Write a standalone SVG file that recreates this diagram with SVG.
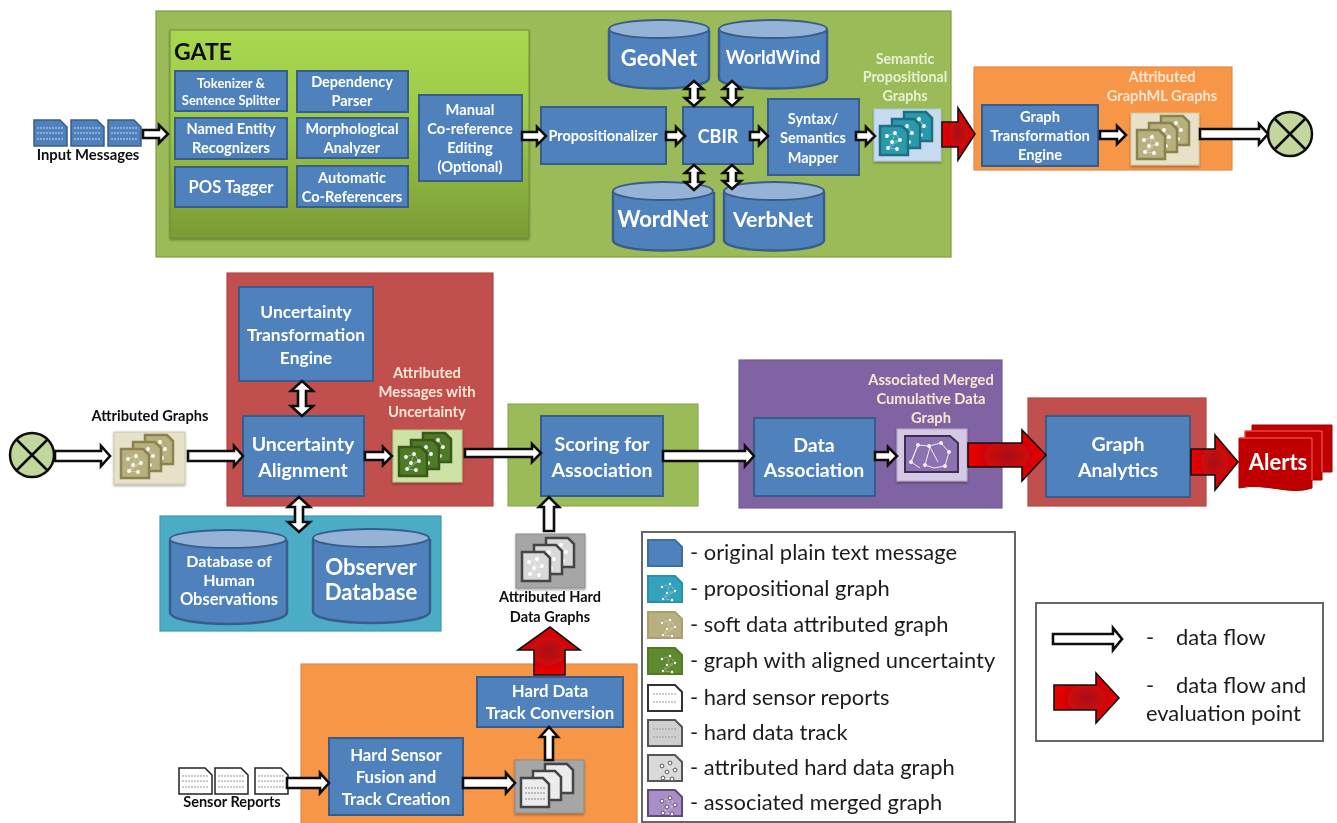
<svg xmlns="http://www.w3.org/2000/svg" width="1337" height="823" viewBox="0 0 1337 823">
<style>
text{font-family:"Lato","Open Sans","Liberation Sans",sans-serif;font-weight:700;text-anchor:middle}
.w{fill:#fff}.pale{fill:#e6efd4}.pe{fill:#fbe6d2}.k{fill:#111}
.box{fill:#4f81bd;stroke:#385d8a;stroke-width:2}
.panel{stroke-width:1.2}
.cyl{fill:#4f81bd;stroke:#385d8a;stroke-width:2.5}
.top{fill:#95b3d7;stroke:#385d8a;stroke-width:2}
.wa{fill:#fff;stroke:#111;stroke-width:2.6;stroke-linejoin:miter}
.ra{fill:url(#red);stroke:#111;stroke-width:1.6}
.leg{font-family:"Lato","Open Sans",sans-serif;font-weight:400;fill:#1c1c1c;font-size:21.9px;text-anchor:start}
.lb{fill:#fff;stroke:#666;stroke-width:2}
</style>
<defs>
<filter id="soft" x="-2%" y="-2%" width="104%" height="104%"><feGaussianBlur stdDeviation="0.55"/></filter>
<filter id="sh" x="-5%" y="-5%" width="110%" height="115%"><feDropShadow dx="0" dy="1.5" stdDeviation="1.2" flood-color="#000" flood-opacity=".35"/></filter>
<linearGradient id="gate" x1="0" y1="0" x2="0" y2="1"><stop offset="0" stop-color="#a9d84f"/><stop offset=".45" stop-color="#9cc848"/><stop offset="1" stop-color="#7a9a35"/></linearGradient>
<radialGradient id="red" r=".45"><stop offset="0" stop-color="#a81218"/><stop offset="1" stop-color="#e60000"/></radialGradient>
<g id="card"><path d="M0 0H22L28 6V29H0Z" fill="currentColor" stroke="var(--s)" stroke-width="2.5"/></g>
<g id="dots" fill="#fff"><path d="M7 10L15 7L12 16L20 14L8 22L17 23M15 7L20 14M12 16L8 22" fill="none" stroke="#fff" stroke-opacity=".45" stroke-width=".8"/><circle cx="7" cy="10" r="1.9"/><circle cx="15" cy="7" r="1.9"/><circle cx="12" cy="16" r="1.9"/><circle cx="20" cy="14" r="1.9"/><circle cx="8" cy="22" r="1.9"/><circle cx="17" cy="23" r="1.9"/></g>
<g id="stack">
<use href="#card" x="30" y="6"/><use href="#dots" x="30" y="6"/>
<use href="#card" x="18" y="13"/><use href="#dots" x="18" y="13"/>
<use href="#card" x="6" y="20"/><use href="#dots" x="6" y="20"/>
</g>
<g id="tstack">
<use href="#card" x="30" y="6"/><use href="#card" x="18" y="13"/><use href="#card" x="6" y="20"/>
<path d="M10 30H30M10 35H30M10 41H30" fill="none" stroke="#888" stroke-dasharray="2 1"/>
</g>
<g id="doc"><path d="M0 0H26L33 7V26H0Z" stroke-width="1.5"/><path d="M3 8H29M3 13H29M3 19H29" stroke="var(--l,#fff)" stroke-opacity=".7" stroke-width="1" stroke-dasharray="2 1"/></g>
<g id="ldoc"><path d="M0 1H27L34 8V27H0Z" stroke-width="2"/></g>
<path id="llines" d="M5 10H29M5 18H29" fill="none" stroke="#999" stroke-width="1" stroke-dasharray="2 1"/>
</defs>
<rect width="1337" height="823" fill="#fff"/>
<g filter="url(#soft)">

<g id="panels">
<rect id="panel-top" class="panel" x="156" y="11" width="795" height="246" fill="#9bbb59" stroke="#7f9c45"/>
<rect id="panel-orange1" class="panel" x="974" y="67" width="258" height="103" fill="#f79646" stroke="#e08a48"/>
<rect id="panel-red1" class="panel" x="227" y="273" width="266" height="233" fill="#c0504d" stroke="#b04a47"/>
<rect id="panel-green2" class="panel" x="508" y="404" width="190" height="102" fill="#9bbb59" stroke="#8dab52"/>
<rect id="panel-purple" class="panel" x="739" y="360" width="263" height="148" fill="#8064a2" stroke="#735a92"/>
<rect id="panel-red2" class="panel" x="1028" y="398" width="178" height="108" fill="#c0504d" stroke="#b04a47"/>
<rect id="panel-teal" class="panel" x="160" y="516" width="281" height="115" fill="#4bacc6" stroke="#4197ae"/>
<rect id="panel-orange2" class="panel" x="301" y="664" width="336" height="170" fill="#f79646" stroke="#e08a48"/>
</g>

<g id="gate"><rect x="170" y="30" width="359" height="208" fill="url(#gate)" stroke="#6f8c30" filter="url(#sh)"/>
<text x="203" y="60" class="k" style="font-size:23px">GATE</text></g>

<g id="n-tokenizer"><rect class="box" x="175" y="71" width="112" height="40"/><text class="w" x="231" y="88" font-size="13">Tokenizer &amp;</text><text class="w" x="231" y="105" font-size="13">Sentence Splitter</text></g>
<g id="n-dependency"><rect class="box" x="297" y="71" width="111" height="41"/><text class="w" x="352" y="87" font-size="14.5">Dependency</text><text class="w" x="352" y="106" font-size="14.5">Parser</text></g>
<g id="n-named"><rect class="box" x="175" y="118" width="112" height="41"/><text class="w" x="231" y="134" font-size="14.6">Named Entity</text><text class="w" x="231" y="153" font-size="14.6">Recognizers</text></g>
<g id="n-morph"><rect class="box" x="297" y="118" width="111" height="40"/><text class="w" x="352" y="134" font-size="14.5">Morphological</text><text class="w" x="352" y="153" font-size="14.5">Analyzer</text></g>
<g id="n-pos"><rect class="box" x="175" y="167" width="112" height="40"/><text class="w" x="231" y="193" font-size="16.5">POS Tagger</text></g>
<g id="n-auto"><rect class="box" x="297" y="166" width="111" height="41"/><text class="w" x="352" y="183" font-size="14.6">Automatic</text><text class="w" x="352" y="202" font-size="14.6">Co-Referencers</text></g>
<g id="n-manual"><rect class="box" x="419" y="95" width="103" height="86"/><text class="w" x="470" y="115" font-size="14.7">Manual</text><text class="w" x="470" y="134" font-size="14.7">Co-reference</text><text class="w" x="470" y="153" font-size="14.7">Editing</text><text class="w" x="470" y="172" font-size="14.7">(Optional)</text></g>
<g id="n-prop"><rect class="box" x="541" y="107" width="125" height="57"/><text class="w" x="603" y="141" font-size="14.5">Propositionalizer</text></g>
<g id="n-cbir"><rect class="box" x="683" y="107" width="70" height="57"/><text class="w" x="718" y="143" font-size="18">CBIR</text></g>
<g id="n-syntax"><rect class="box" x="768" y="99" width="91" height="76"/><text class="w" x="813" y="124" font-size="14.5">Syntax/</text><text class="w" x="813" y="143" font-size="14.5">Semantics</text><text class="w" x="813" y="163" font-size="14.5">Mapper</text></g>

<g id="db-geonet"><path class="cyl" d="M609 30V78C609 92 709 92 709 78V30"/><ellipse class="top" cx="659" cy="29" rx="50" ry="9"/><text class="w" x="659" y="66" font-size="22">GeoNet</text></g>
<g id="db-worldwind"><path class="cyl" d="M719 30V78C719 92 827 92 827 78V30"/><ellipse class="top" cx="773" cy="29" rx="54" ry="9"/><text class="w" x="773" y="64" font-size="18.3">WorldWind</text></g>
<g id="db-wordnet"><path class="cyl" d="M613 192V240C613 254 714 254 714 240V192"/><ellipse class="top" cx="663" cy="191" rx="50" ry="9"/><text class="w" x="663" y="227" font-size="22">WordNet</text></g>
<g id="db-verbnet"><path class="cyl" d="M724 192V240C724 254 824 254 824 240V192"/><ellipse class="top" cx="774" cy="191" rx="50" ry="9"/><text class="w" x="773" y="227" font-size="21.5">VerbNet</text></g>

<g id="n-semantic"><text class="pale" x="905" y="64" font-size="14.3">Semantic</text><text class="pale" x="905" y="82" font-size="14.3">Propositional</text><text class="pale" x="905" y="101" font-size="14.3">Graphs</text>
<rect x="874" y="109" width="67" height="52" fill="#c6daf0" stroke="#b0c4de" filter="url(#sh)"/><use href="#stack" x="874" y="106" style="color:#2a99ac;--s:#1d6f80"/></g>

<g id="n-gte"><rect class="box" x="982" y="105" width="116" height="61"/><text class="w" x="1040" y="122" font-size="14.7">Graph</text><text class="w" x="1040" y="141" font-size="14.7">Transformation</text><text class="w" x="1040" y="160" font-size="14.7">Engine</text></g>
<g id="n-graphml"><text class="pe" x="1162" y="82" font-size="14.6">Attributed</text><text class="pe" x="1162" y="101" font-size="14.6">GraphML Graphs</text>
<rect x="1131" y="113" width="68" height="52" fill="#e6e1c8" stroke="#cfc9a8" filter="url(#sh)"/><use href="#stack" x="1131" y="110" style="color:#b8b07e;--s:#8a8350"/></g>
<g id="xor-top" fill="none" stroke="#111" stroke-width="2.5"><circle cx="1290" cy="134" r="22" fill="#c3d69b"/><path d="M1274 118L1306 150M1306 118L1274 150"/></g>

<g id="n-attr"><text class="k" x="150" y="421" font-size="14.6">Attributed Graphs</text><rect x="114" y="432" width="71" height="52" fill="#e6e1c8" stroke="#cfc9a8" filter="url(#sh)"/><use href="#stack" x="115" y="429" style="color:#b8b07e;--s:#8a8350"/></g>
<g id="xor-left" fill="none" stroke="#111" stroke-width="2.5"><circle cx="32" cy="455" r="22" fill="#c3d69b"/><path d="M16 439L48 471M48 439L16 471"/></g>

<g id="n-ute"><rect class="box" x="239" y="287" width="134" height="94"/><text class="w" x="306" y="318" font-size="17.4">Uncertainty</text><text class="w" x="306" y="341" font-size="17.4">Transformation</text><text class="w" x="306" y="364" font-size="17.4">Engine</text></g>
<g id="n-ua"><rect class="box" x="243" y="416" width="121" height="80"/><text class="w" x="303" y="451" font-size="19.5">Uncertainty</text><text class="w" x="303" y="477" font-size="19.5">Alignment</text></g>
<g id="n-amu"><text class="pe" x="427" y="378" font-size="14.8">Attributed</text><text class="pe" x="427" y="397" font-size="14.8">Messages with</text><text class="pe" x="427" y="417" font-size="14.8">Uncertainty</text>
<rect x="393" y="430" width="69" height="52" fill="#cfe2a5" stroke="#b6cc88" filter="url(#sh)"/><use href="#stack" x="393" y="427" style="color:#4f7a28;--s:#38591b"/></g>
<g id="n-scoring"><rect class="box" x="541" y="416" width="122" height="80"/><text class="w" x="602" y="451" font-size="19.6">Scoring for</text><text class="w" x="602" y="477" font-size="19.6">Association</text></g>
<g id="n-da"><rect class="box" x="754" y="418" width="121" height="78"/><text class="w" x="814" y="452" font-size="19.5">Data</text><text class="w" x="814" y="477" font-size="19.5">Association</text></g>
<g id="n-merged"><text class="pe" x="931" y="385" font-size="14.7">Associated Merged</text><text class="pe" x="931" y="404" font-size="14.7">Cumulative Data</text><text class="pe" x="931" y="423" font-size="14.7">Graph</text>
<rect x="897" y="429" width="70" height="52" fill="#d5c8e2" stroke="#b9a8cc" filter="url(#sh)"/><path d="M905 436H950L958 443V472H905Z" fill="#8c72ae" stroke="#3f2f5a" stroke-width="2"/><g fill="#efe8f6" stroke="#efe8f6" stroke-width="1"><path d="M911 462L918 445L929 446L941 443L949 452L945 466L934 468L925 465L930 447L938 462M918 445L911 462L920 468" fill="none"/><circle cx="918" cy="445" r="1.6"/><circle cx="929" cy="446" r="1.6"/><circle cx="941" cy="443" r="1.6"/><circle cx="949" cy="452" r="1.6"/><circle cx="945" cy="466" r="1.6"/><circle cx="925" cy="465" r="1.6"/><circle cx="911" cy="462" r="1.6"/></g></g>
<g id="n-ga"><rect class="box" x="1046" y="416" width="144" height="81"/><text class="w" x="1118" y="451" font-size="19.5">Graph</text><text class="w" x="1118" y="477" font-size="19.5">Analytics</text></g>
<g id="n-alerts"><path d="M1252 425H1332V472H1322V480H1312V488C1290 496 1265 482 1239 488V438H1245V431H1252Z" fill="#c00000" stroke="#a00000"/><path d="M1245 438V431H1322V472M1239 438H1312V480" fill="none" stroke="#ff6060" stroke-width="1"/><text class="w" x="1278" y="470" font-size="22">Alerts</text></g>

<g id="db-human"><path class="cyl" d="M170 540V612C170 628 287 628 287 612V540"/><ellipse class="top" cx="228" cy="539" rx="58" ry="9"/><text class="w" x="229" y="567" font-size="16">Database of</text><text class="w" x="229" y="586" font-size="16">Human</text><text class="w" x="229" y="605" font-size="16.5">Observations</text></g>
<g id="db-observer"><path class="cyl" d="M313 539V611C313 627 430 627 430 611V539"/><ellipse class="top" cx="371" cy="538" rx="58" ry="9"/><text class="w" x="371" y="575" font-size="22.2">Observer</text><text class="w" x="371" y="600" font-size="22.2">Database</text></g>

<g id="n-ahd"><rect x="516" y="534" width="69" height="54" fill="#a6a6a6" stroke="#8c8c8c" filter="url(#sh)"/><use href="#stack" x="516" y="532" style="color:#d9d9d9;--s:#444"/><text class="k" x="550" y="602" font-size="14.5">Attributed Hard</text><text class="k" x="550" y="622" font-size="14.5">Data Graphs</text></g>
<g id="n-hdtc"><rect class="box" x="477" y="677" width="146" height="50"/><text class="w" x="550" y="697" font-size="16.8">Hard Data</text><text class="w" x="550" y="719" font-size="16.8">Track Conversion</text></g>
<g id="n-hsf"><rect class="box" x="329" y="738" width="134" height="77"/><text class="w" x="396" y="761" font-size="16.8">Hard Sensor</text><text class="w" x="396" y="783" font-size="16.8">Fusion and</text><text class="w" x="396" y="805" font-size="16.8">Track Creation</text></g>
<g id="n-track"><rect x="515" y="760" width="69" height="53" fill="#a6a6a6" stroke="#8c8c8c" filter="url(#sh)"/><use href="#tstack" x="515" y="758" style="color:#ececec;--s:#444"/></g>

<g id="n-input"><g fill="#4f81bd" stroke="#385d8a"><use href="#doc" x="34" y="120"/><use href="#doc" x="71" y="120"/><use href="#doc" x="108" y="120"/></g><text class="k" x="88" y="160" font-size="14.8">Input Messages</text></g>
<g id="n-sensor" style="--l:#666"><g fill="#fff" stroke="#222"><use href="#doc" x="179" y="768"/><use href="#doc" x="215" y="768"/><use href="#doc" x="255" y="768"/></g><text class="k" x="232" y="807" font-size="14.5">Sensor Reports</text></g>

<g id="connectors">
<path class="wa" d="M143 130H159V125L168 134L159 143V138H143Z"/>
<path class="wa" d="M522 132H537V127L546 136L537 145V140H522Z"/>
<path class="wa" d="M666 132H676V127L685 136L676 145V140H666Z"/>
<path class="wa" d="M750 132H759V127L768 136L759 145V140H750Z"/>
<path class="wa" d="M856 132H866V127L875 136L866 145V140H856Z"/>
<path class="wa" d="M1100 131H1117V126L1126 135L1117 144V139H1100Z"/>
<path class="wa" d="M1200 129H1259V124L1268 134L1259 144V139H1200Z"/>
<path class="wa" d="M55 451H101V446L110 456L101 466V461H55Z"/>
<path class="wa" d="M188 451H234V446L243 456L234 466V461H188Z"/>
<path class="wa" d="M365 452H383V447L392 456L383 465V460H365Z"/>
<path class="wa" d="M465 449H532V444L541 453L532 462V457H465Z"/>
<path class="wa" d="M663 451H745V446L754 456L745 466V461H663Z"/>
<path class="wa" d="M875 452H888V447L897 456L888 465V460H875Z"/>
<path class="wa" d="M287 778H320V773L329 783L320 793V788H287Z"/>
<path class="wa" d="M463 778H506V773L515 783L506 793V788H463Z"/>
<path class="wa" d="M545 760V737H540L549 727L558 737H553V760Z"/>
<path class="wa" d="M544 531V507H539L549 497L559 507H554V531Z"/>
<path class="wa" d="M690 89H685L694 81L703 89H698V98H703L694 106L685 98H690Z"/>
<path class="wa" d="M728 89H723L732 81L741 89H736V98H741L732 106L723 98H728Z"/>
<path class="wa" d="M690 173H685L694 165L703 173H698V182H703L694 190L685 182H690Z"/>
<path class="wa" d="M728 173H723L732 165L741 173H736V181H741L732 189L723 181H728Z"/>
<path class="wa" d="M298 391H291L302 381L313 391H306V406H313L302 416L291 406H298Z"/>
<path class="wa" d="M295 507H288L299 497L310 507H303V522H310L299 532L288 522H295Z"/>
<path class="ra" d="M942 122H958V108L975 134L958 160V147H942Z"/>
<path class="ra" d="M968 443H1022V430L1046 455L1022 481V467H968Z"/>
<path class="ra" d="M1191 449H1215V435L1238 462L1215 490V475H1191Z"/>
<path class="ra" d="M534 675V650H518L550 627L580 650H565V675Z"/>
</g>

<g id="legend-types">
<rect class="lb" x="642" y="532" width="373" height="290"/>
<g fill="#4f81bd" stroke="#3a6ea5"><use href="#ldoc" x="648" y="539"/></g>
<g fill="#31a2bd" stroke="#2a90a8"><use href="#ldoc" x="648" y="575"/><use href="#dots" x="655" y="577"/></g>
<g fill="#b8b07e" stroke="#a8a070"><use href="#ldoc" x="648" y="611"/><use href="#dots" x="655" y="613"/></g>
<g fill="#5f8a2e" stroke="#4f7a28"><use href="#ldoc" x="648" y="647"/><use href="#dots" x="655" y="649"/></g>
<g fill="#fff" stroke="#333"><use href="#ldoc" x="648" y="684"/><use href="#llines" x="648" y="684"/></g>
<g fill="#cfcfcf" stroke="#555"><use href="#ldoc" x="648" y="719"/><use href="#llines" x="648" y="719"/></g>
<g fill="#d9d9d9" stroke="#555"><use href="#ldoc" x="648" y="754"/><use href="#dots" x="655" y="756"/></g>
<g fill="#a98fc8" stroke="#5e4a78"><use href="#ldoc" x="648" y="789"/><use href="#dots" x="655" y="791"/></g>
<text class="leg" x="690" y="560">- original plain text message</text>
<text class="leg" x="690" y="596">- propositional graph</text>
<text class="leg" x="690" y="632">- soft data attributed graph</text>
<text class="leg" x="690" y="668">- graph with aligned uncertainty</text>
<text class="leg" x="690" y="705">- hard sensor reports</text>
<text class="leg" x="690" y="740">- hard data track</text>
<text class="leg" x="690" y="775">- attributed hard data graph</text>
<text class="leg" x="690" y="810">- associated merged graph</text>
</g>
<g id="legend-flows">
<rect class="lb" x="1036" y="603" width="287" height="138"/>
<path class="wa" d="M1053 634H1113V628L1122 639L1113 650V644H1053Z"/>
<path class="ra" d="M1054 685H1096V673L1119 698L1096 723V710H1054Z"/>
<text class="leg" x="1146" y="645">-</text><text class="leg" x="1176" y="645">data flow</text>
<text class="leg" x="1146" y="693">-</text><text class="leg" x="1176" y="693">data flow and</text>
<text class="leg" x="1146" y="721">evaluation point</text>
</g>
</g>
</svg>
